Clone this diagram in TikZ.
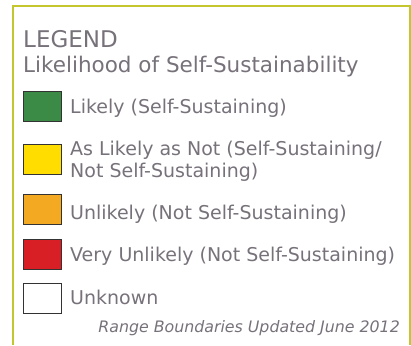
\documentclass[tikz,border=0pt]{standalone}
\usepackage{fontspec}
\setmainfont{DejaVu Sans}
\definecolor{frame}{HTML}{C3C62C}
\definecolor{txt}{HTML}{77717A}
\definecolor{likely}{HTML}{3B8A45}
\definecolor{aslikely}{HTML}{FFDD00}
\definecolor{unlikely}{HTML}{F3AA22}
\definecolor{veryunlikely}{HTML}{D91F26}
\begin{document}
\begin{tikzpicture}[x=1pt,y=-1pt,
    swatch/.style={draw=black!80, line width=1pt, minimum width=38pt, minimum height=30pt, inner sep=0pt, anchor=north west},
    entry/.style={anchor=base west, inner sep=0pt, text=txt, font=\fontsize{19}{22}\selectfont, align=left}]

    \useasboundingbox (0,0) rectangle (411,345);
    \draw[frame, line width=2pt] (13.2,345) -- (13.2,5.7) -- (409.5,5.7) -- (409.5,345);

    \node[anchor=base west, inner sep=0pt, text=txt, font=\fontsize{23}{26}\selectfont] at (23,47) (title) {LEGEND};
    \node[anchor=base west, inner sep=0pt, text=txt, font=\fontsize{21.5}{24}\selectfont] at (23,72) (sub) {Likelihood of Self-Sustainability};

    \node[swatch, fill=likely] at (23,91) (s1) {};
    \node[swatch, fill=aslikely] at (23,144) (s2) {};
    \node[swatch, fill=unlikely] at (23,194) (s3) {};
    \node[swatch, fill=veryunlikely] at (23,239) (s4) {};
    \node[swatch, fill=white] at (23,283) (s5) {};

    \node[entry] at (70,113) (t1) {Likely (Self-Sustaining)};
    \node[entry] at (70,177) (t2) {As Likely as Not (Self-Sustaining/\\Not Self-Sustaining)};
    \node[entry] at (70,219) (t3) {Unlikely (Not Self-Sustaining)};
    \node[entry] at (70,261) (t4) {Very Unlikely (Not Self-Sustaining)};
    \node[entry] at (70,304) (t5) {Unknown};

    \node[anchor=base east, inner sep=0pt, text=txt, font=\fontsize{15.8}{18}\selectfont\itshape] at (400,332) (note) {Range Boundaries Updated June 2012};
  \end{tikzpicture}
\end{document}
